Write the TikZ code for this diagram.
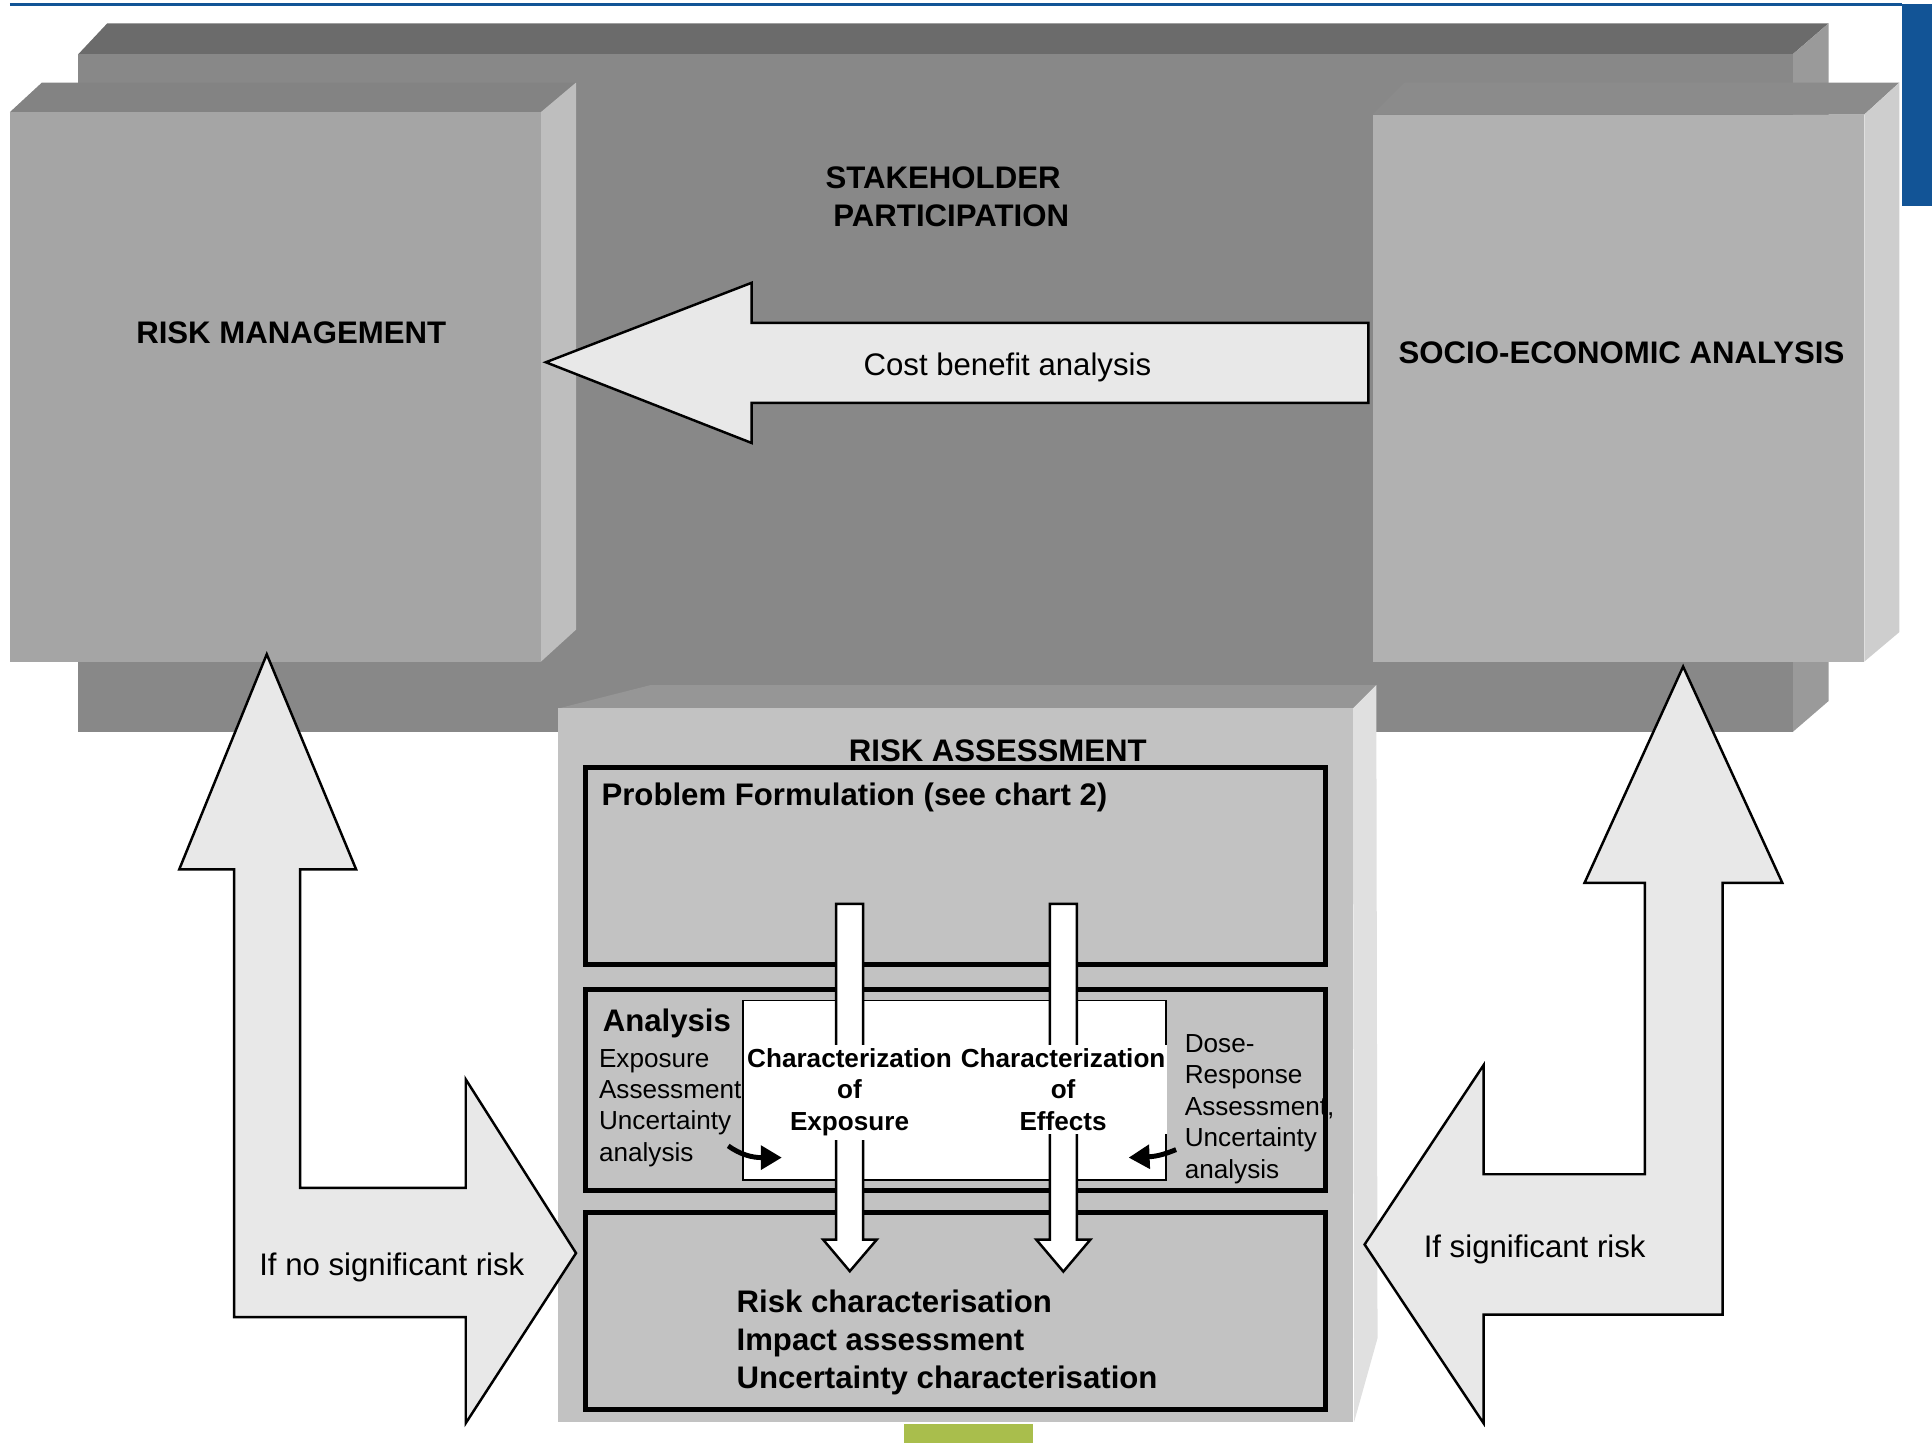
\documentclass[tikz,border=0pt]{standalone}
\usepackage{fontspec}
\setmainfont{Liberation Sans}
\usetikzlibrary{arrows.meta}
\definecolor{blueline}{RGB}{18,84,150}
\definecolor{greenbar}{RGB}{169,190,76}
\definecolor{backfront}{HTML}{888888}
\definecolor{backtop}{HTML}{6B6B6B}
\definecolor{backside}{HTML}{9A9A9A}
\definecolor{rmfront}{HTML}{A5A5A5}
\definecolor{rmtop}{HTML}{838383}
\definecolor{rmside}{HTML}{BEBEBE}
\definecolor{seafront}{HTML}{B1B1B1}
\definecolor{seatop}{HTML}{8B8B8B}
\definecolor{seaside}{HTML}{CECECE}
\definecolor{rafront}{HTML}{C2C2C2}
\definecolor{ratop}{HTML}{969696}
\definecolor{raside}{HTML}{E0E0E0}
\definecolor{arrowfill}{HTML}{E8E8E8}
\tikzset{
  bigb/.style={font=\fontsize{25.3}{30.6}\selectfont\bfseries, inner sep=0pt},
  bigr/.style={font=\fontsize{25.3}{30.6}\selectfont, inner sep=0pt},
  smallb/.style={font=\fontsize{21.2}{25.5}\selectfont\bfseries, inner sep=0pt},
  smallr/.style={font=\fontsize{21.2}{25.5}\selectfont, inner sep=0pt},
  blockarrow/.style={fill=arrowfill, draw=black, line width=2pt, line join=miter},
  whitearrow/.style={fill=white, draw=black, line width=2pt, line join=miter},
  innerbox/.style={draw=black, line width=4pt},
  curvarrow/.style={line width=4pt, -{Triangle[length=17pt,width=19pt]}},
}
\begin{document}
\begin{tikzpicture}[x=1pt,y=-1pt]
\useasboundingbox (0,0) rectangle (1568,1171);
% blue header
\draw[blueline, line width=2.5pt] (8,4) -- (1544,4);
\fill[blueline] (1543.6,3) rectangle (1568,167);
% stakeholder back box
\fill[backtop] (63.5,44) -- (87,19) -- (1484,19) -- (1455,44) -- cycle;
\fill[backside] (1455,44) -- (1484,19) -- (1484,569) -- (1455,594) -- cycle;
\fill[backfront] (63.5,44) rectangle (1455,594);
% risk management box
\fill[rmtop] (8,91) -- (34,67) -- (467.5,67) -- (439,91) -- cycle;
\fill[rmside] (439,91) -- (467.5,67) -- (467.5,511) -- (439,537) -- cycle;
\fill[rmfront] (8,91) rectangle (439,537);
% socio-economic box
\fill[seatop] (1114,93) -- (1140,67) -- (1541.5,67) -- (1513,93) -- cycle;
\fill[seaside] (1513,93) -- (1541.5,67) -- (1541.5,513) -- (1513,537) -- cycle;
\fill[seafront] (1114,93) rectangle (1513,537);
% risk assessment box
\fill[ratop] (453,575) -- (528,556) -- (1117,556) -- (1098,575) -- cycle;
\fill[raside] (1098,575) -- (1117,556) -- (1118,1086) -- (1099,1154) -- cycle;
\fill[rafront] (453,575) rectangle (1098,1154);
% green bar
\fill[greenbar] (733.6,1156) rectangle (838,1171);
% side texts in analysis (anchor = baseline of last line)
\node[smallr, align=left, anchor=base west] (expo) at (486,942.5) {Exposure\\Assessment,\\Uncertainty\\analysis};
\node[smallr, align=left, anchor=base west] (dose) at (961.4,956.1) {Dose-\\Response\\Assessment,\\Uncertainty\\analysis};
% inner boxes
\draw[innerbox] (475,623) rectangle (1076,782.6);
\draw[innerbox] (475,802.8) rectangle (1076,966);
\draw[innerbox] (475,983.7) rectangle (1076,1143.7);
\draw[fill=white, draw=black, line width=1.5pt] (603,812) rectangle (946,958);
% vertical white arrows
\draw[whitearrow] (678.6,733.6) -- (700.5,733.6) -- (700.5,1006) -- (711.6,1006) -- (689.7,1031.7) -- (668,1006) -- (678.6,1006) -- cycle;
\draw[whitearrow] (852,733.6) -- (874,733.6) -- (874,1006) -- (885,1006) -- (863,1032) -- (841,1006) -- (852,1006) -- cycle;
% characterization labels
\node[smallb, align=center, anchor=base, fill=white, inner xsep=1.5pt, inner ysep=3pt] (chx) at (689.5,917.4) {Characterization\\of\\Exposure};
\node[smallb, align=center, anchor=base, fill=white, inner xsep=1.5pt, inner ysep=3pt] (chf) at (862.8,917.4) {Characterization\\of\\Effects};
% small curved arrows
\coordinate (aL1) at (591,930);
\coordinate (aL2) at (634.5,939.5);
\draw[curvarrow] (aL1) .. controls (601,937) and (610,939.5) .. (aL2);
\coordinate (aR1) at (954.5,933);
\coordinate (aR2) at (916,939.5);
\draw[curvarrow] (aR1) .. controls (947,936) and (940,938.5) .. (aR2);
% titles
\node[bigb, anchor=base] (rm) at (236.4,279) {RISK MANAGEMENT};
\node[bigb, anchor=base] (sh1) at (765.4,152.9) {STAKEHOLDER};
\node[bigb, anchor=base] (sh2) at (772,184) {PARTICIPATION};
\node[bigb, anchor=base] (sea) at (1316,295.3) {SOCIO-ECONOMIC ANALYSIS};
\node[bigb, anchor=base] (ra) at (809.8,618) {RISK ASSESSMENT};
\node[bigb, anchor=base west] (pf) at (488,654) {Problem Formulation (see chart 2)};
\node[bigb, anchor=base west] (an) at (489,837) {Analysis};
\node[bigb, align=left, anchor=base west] (rc) at (597.6,1126.6) {Risk characterisation\\Impact assessment\\Uncertainty characterisation};
% cost benefit arrow
\draw[blockarrow] (443,294) -- (610,229.5) -- (610,262) -- (1110.5,262) -- (1110.5,327) -- (610,327) -- (610,359.5) -- cycle;
\node[bigr, anchor=base] (cba) at (817.6,304.4) {Cost benefit analysis};
% left L arrow
\draw[blockarrow] (216.5,531) -- (289,705.5) -- (243.5,705.5) -- (243.5,964) -- (378,964) -- (378,876) -- (467.5,1017) -- (378,1155) -- (378,1069) -- (190,1069) -- (190,705.5) -- (145.5,705.5) -- cycle;
\node[bigr, anchor=base] (nosig) at (318,1035) {If no significant risk};
% right L arrow
\draw[blockarrow] (1366,541) -- (1446.5,716.5) -- (1398,716.5) -- (1398,1067) -- (1204,1067) -- (1204,1155) -- (1107.5,1010) -- (1204,864.5) -- (1204,953) -- (1335,953) -- (1335,716.5) -- (1286,716.5) -- cycle;
\node[bigr, anchor=base] (sig) at (1245.5,1020.3) {If significant risk};
\end{tikzpicture}
\end{document}
